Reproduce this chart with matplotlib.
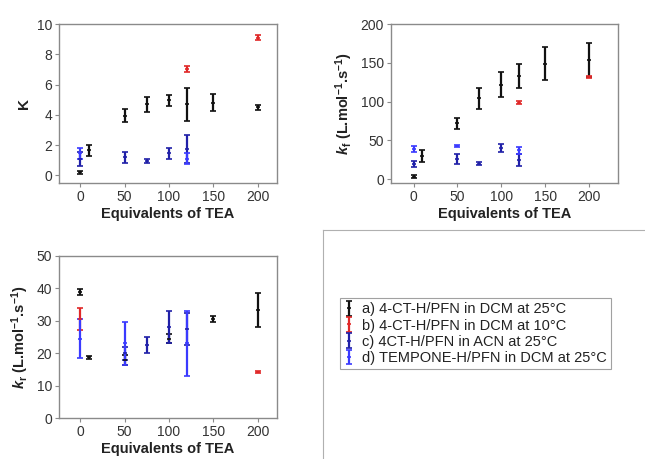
import matplotlib
matplotlib.use("Agg")
import matplotlib.pyplot as plt
from matplotlib.lines import Line2D

plt.rcParams['font.family'] = ['Liberation Sans', 'DejaVu Sans']
plt.rcParams['mathtext.fontset'] = 'custom'
plt.rcParams['mathtext.rm'] = 'Liberation Sans'
plt.rcParams['mathtext.bf'] = 'Liberation Sans:bold'
plt.rcParams['mathtext.it'] = 'Liberation Sans:italic'
plt.rcParams['mathtext.bfit'] = 'Liberation Sans:bold:italic'

labels = ["a) 4-CT-H/PFN in DCM at 25°C", "b) 4-CT-H/PFN in DCM at 10°C",
          "c) 4CT-H/PFN in ACN at 25°C", "d) TEMPONE-H/PFN in DCM at 25°C"]
colors = ["#111111", "#e02828", "#2020a8", "#3a3aff"]

# Panel 1: K
K_a_x = [0, 10, 50, 75, 100, 120, 150, 200]
K_a_y = [0.2, 1.65, 3.95, 4.7, 4.95, 4.7, 4.8, 4.5]
K_a_e = [0.08, 0.38, 0.45, 0.5, 0.35, 1.1, 0.55, 0.15]
K_b_x = [120, 200]
K_b_y = [7.0, 9.1]
K_b_e = [0.2, 0.15]
K_c_x = [0, 50, 75, 100, 120]
K_c_y = [1.1, 1.2, 0.95, 1.45, 1.75]
K_c_e = [0.45, 0.38, 0.13, 0.35, 0.95]
K_d_x = [0, 120]
K_d_y = [1.45, 1.1]
K_d_e = [0.35, 0.35]

# Panel 2: kf
kf_a_x = [0, 10, 50, 75, 100, 120, 150, 200]
kf_a_y = [3, 30, 72, 104, 122, 133, 149, 154]
kf_a_e = [2, 8, 7, 13, 15.5, 15, 21, 22]
kf_b_x = [120, 200]
kf_b_y = [98.5, 132]
kf_b_e = [2, 1.5]
kf_c_x = [0, 50, 75, 100, 120]
kf_c_y = [20, 26, 20, 40, 25]
kf_c_e = [4, 7, 1.5, 5, 8]
kf_d_x = [0, 50, 120]
kf_d_y = [39, 43, 37]
kf_d_e = [4, 1, 4]

# Panel 3: kr
kr_a_x = [0, 10, 50, 100, 150, 200]
kr_a_y = [38.9, 18.7, 18.0, 24.5, 30.5, 33.3]
kr_a_e = [1.0, 0.5, 1.5, 1.5, 1.0, 5.2]
kr_b_x = [0, 200]
kr_b_y = [30.5, 14.3]
kr_b_e = [3.3, 0.3]
kr_c_x = [50, 75, 100, 120]
kr_c_y = [20.0, 22.5, 28.0, 27.5]
kr_c_e = [2.0, 2.5, 5.0, 5.0]
kr_d_x = [0, 50, 120]
kr_d_y = [24.5, 23.0, 23.0]
kr_d_e = [6.0, 6.5, 10.0]

fig = plt.figure(figsize=(6.45, 4.59), dpi=100)
ax1 = fig.add_axes([0.0915, 0.6013, 0.338, 0.3464])
ax2 = fig.add_axes([0.606, 0.6013, 0.352, 0.3464])
ax3 = fig.add_axes([0.0915, 0.0893, 0.338, 0.353])

def draw(ax, series):
    handles = []
    for (x, y, e), c in zip(series, colors):
        h = ax.errorbar(x, y, yerr=e, fmt='_', ms=3, color=c, ecolor=c,
                        elinewidth=1.6, capsize=2, capthick=1.4, mew=1.2)
        handles.append(h)
    for s in ax.spines.values():
        s.set_color('#8a8a8a')
        s.set_linewidth(1.0)
    ax.tick_params(direction='out', length=3, color='#8a8a8a', labelsize=10,
                   labelcolor='#333333', width=0.8, pad=2)
    ax.set_xticks([0, 50, 100, 150, 200])
    ax.set_xlabel('Equivalents of TEA', fontsize=10.5, fontweight='bold',
                  color='#222222', labelpad=2)
    return handles

hs = draw(ax1, [(K_a_x, K_a_y, K_a_e), (K_b_x, K_b_y, K_b_e),
                (K_c_x, K_c_y, K_c_e), (K_d_x, K_d_y, K_d_e)])
ax1.set_xlim(-24, 222)
ax1.set_ylim(-0.5, 10)
ax1.set_yticks([0, 2, 4, 6, 8, 10])
ax1.set_ylabel('K', fontsize=11, fontweight='bold', color='#222222')

draw(ax2, [(kf_a_x, kf_a_y, kf_a_e), (kf_b_x, kf_b_y, kf_b_e),
           (kf_c_x, kf_c_y, kf_c_e), (kf_d_x, kf_d_y, kf_d_e)])
ax2.set_xlim(-26, 233)
ax2.set_ylim(-5, 200)
ax2.set_yticks([0, 50, 100, 150, 200])
ax2.set_ylabel(r'$\mathbfit{k}_\mathbf{f}$ (L.mol$\mathbf{^{-1}}$.s$\mathbf{^{-1}}$)',
               fontsize=10.5, fontweight='bold', color='#222222')

draw(ax3, [(kr_a_x, kr_a_y, kr_a_e), (kr_b_x, kr_b_y, kr_b_e),
           (kr_c_x, kr_c_y, kr_c_e), (kr_d_x, kr_d_y, kr_d_e)])
ax3.set_xlim(-24, 222)
ax3.set_ylim(0, 50)
ax3.set_yticks([0, 10, 20, 30, 40, 50])
ax3.set_ylabel(r'$\mathbfit{k}_\mathbf{r}$ (L.mol$\mathbf{^{-1}}$.s$\mathbf{^{-1}}$)',
               fontsize=10.5, fontweight='bold', color='#222222')

# frame lines of the lower-right panel
fig.add_artist(Line2D([323/645, 1.0], [1 - 230/459, 1 - 230/459], transform=fig.transFigure,
                      color='#b0b0b0', lw=0.8))
fig.add_artist(Line2D([323/645, 323/645], [0, 1 - 230/459], transform=fig.transFigure,
                      color='#b0b0b0', lw=0.8))

leg = fig.legend(hs, labels, loc='upper left', bbox_to_anchor=(340/645, 1 - 298/459),
                 fontsize=10.5, frameon=True, fancybox=False, edgecolor='#8a8a8a',
                 handlelength=0.6, handletextpad=0.6, borderpad=0.3, labelspacing=0.15,
                 borderaxespad=0)
leg.get_frame().set_linewidth(0.8)
for t in leg.get_texts():
    t.set_color('#222222')

fig.savefig('out.png', dpi=100)
